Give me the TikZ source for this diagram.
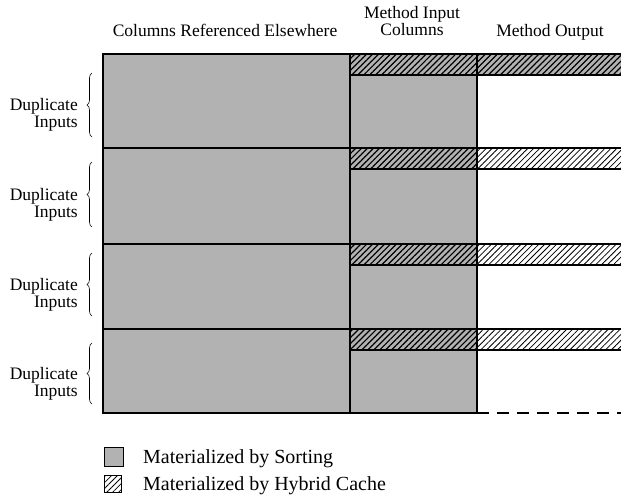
\documentclass[tikz,border=0pt]{standalone}
\usepackage{fontspec}
\setmainfont{Liberation Serif}
\usetikzlibrary{patterns.meta,decorations.pathreplacing,positioning}

\begin{document}
\begin{tikzpicture}[x=1pt, y=-1pt,
    every node/.style={font=\fontsize{17.5}{17}\selectfont, inner sep=0pt},
    frame/.style={line width=2.6pt},
    sortfill/.style={fill=black!30},
    densehatch/.style={pattern={Lines[angle=45,distance=4.2pt,line width=1.2pt]}},
    lighthatch/.style={pattern={Lines[angle=45,distance=4.2pt,line width=0.8pt]}},
    dupbrace/.style={decorate, decoration={brace, amplitude=5pt}, line width=0.6pt}]
  \useasboundingbox (0,0) rectangle (621,498);

  % column headers
  \node[anchor=base] (hdrref) at (225,36) {Columns Referenced Elsewhere};
  \node[anchor=base, align=center] (hdrin) at (412,35) {Method Input\\Columns};
  \node[anchor=base] (hdrout) at (550,36) {Method Output};

  % shaded columns and hatched strips
  \fill[sortfill] (103,54) rectangle (477,413);
  \fill[sortfill] (477,54) rectangle (625,75);
  \foreach \t/\s in {54/densehatch,148/lighthatch,244/lighthatch,329/lighthatch} {
    \fill[densehatch] (350,\t) rectangle (477,\t+21);
    \fill[\s] (477,\t) rectangle (625,\t+21);
    \draw[frame] (103,\t) -- (625,\t);
    \draw[frame] (350,\t+21) -- (625,\t+21);
  }
  \draw[frame] (103,54) rectangle (477,413);
  \draw[frame] (350,54) -- (350,413);
  \draw[frame, dash pattern=on 12pt off 8pt] (477,413) -- (625,413);

  % duplicate input groups
  \foreach \i/\a/\b in {1/73/137,2/162/227,3/253/316,4/343/404} {
    \draw[dupbrace] (92,\b) -- (92,\a);
    \node[anchor=east, align=right] (dup\i) at (78,{(\a+\b)/2+10}) {Duplicate\\Inputs};
  }

  % legend
  \node[draw, line width=0.5pt, sortfill, minimum size=19pt] (sortbox) at (114,457) {};
  \node[draw, line width=0.5pt, lighthatch, minimum size=17pt] (hybbox) at (113,484) {};
  \node[anchor=base west, font=\fontsize{20}{20}\selectfont] (sortlbl) at (143,463) {Materialized by Sorting};
  \node[anchor=base west, font=\fontsize{20}{20}\selectfont] (hyblbl) at (143,490) {Materialized by Hybrid Cache};
\end{tikzpicture}
\end{document}
